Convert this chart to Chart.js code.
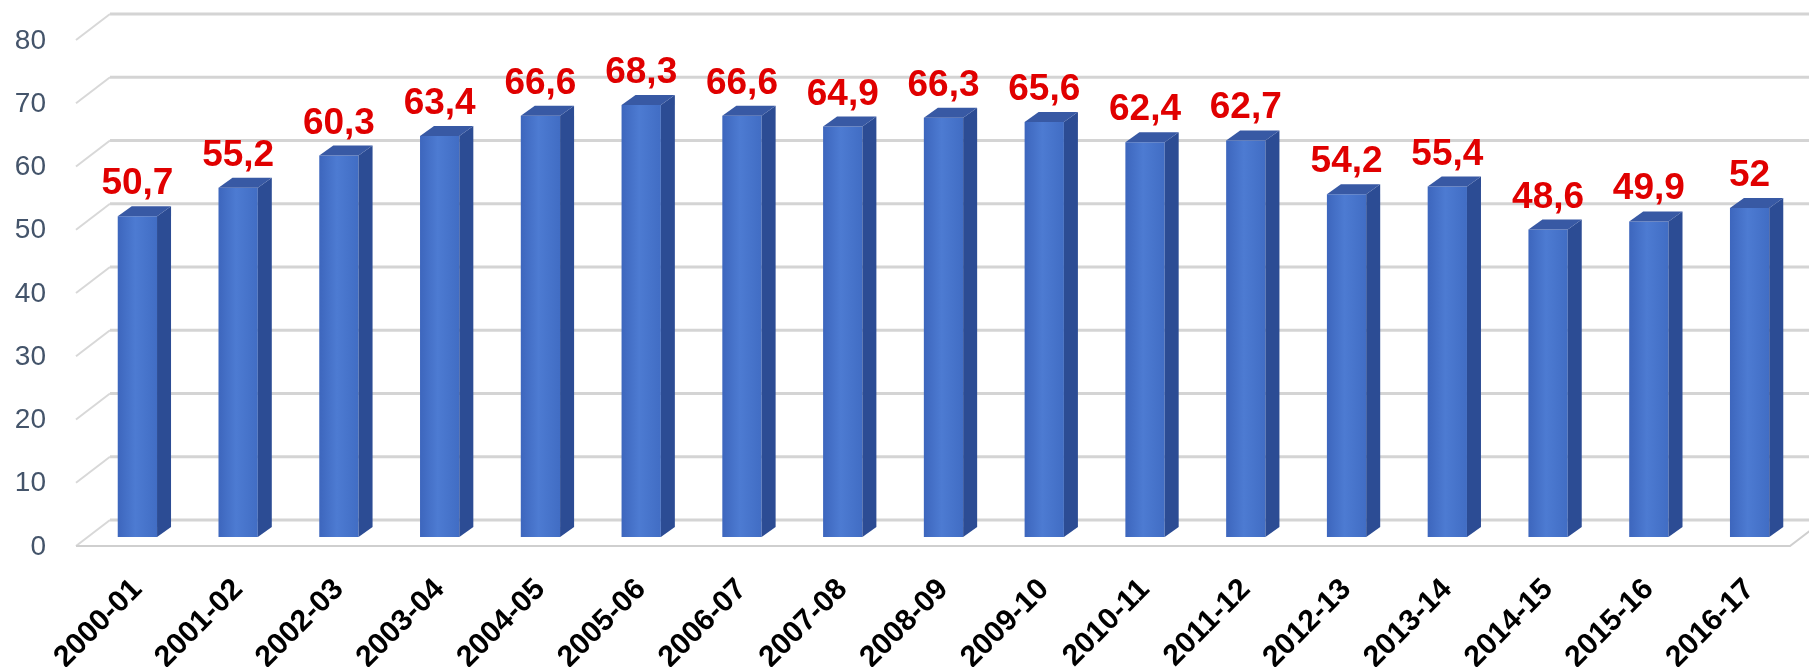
<!DOCTYPE html>
<html>
<head>
<meta charset="utf-8">
<script src="https://cdn.jsdelivr.net/npm/chart.js@4.4.1/dist/chart.umd.min.js"></script>
<style>
  html, body { margin: 0; padding: 0; background: #fff; }
  #wrap { position: relative; width: 1809px; height: 667px; }
</style>
</head>
<body>
<div id="wrap"><canvas id="chart"></canvas></div>
<script>
const seasons = ["2000-01", "2001-02", "2002-03", "2003-04", "2004-05", "2005-06", "2006-07", "2007-08",
  "2008-09", "2009-10", "2010-11", "2011-12", "2012-13", "2013-14", "2014-15", "2015-16", "2016-17"];
const values = [50.7, 55.2, 60.3, 63.4, 66.6, 68.3, 66.6, 64.9, 66.3, 65.6, 62.4, 62.7, 54.2, 55.4, 48.6, 49.9, 52];
const yTicks = [0, 10, 20, 30, 40, 50, 60, 70, 80];

// fake 3d depth, in px
const DX = 14, DY = 10;
const BACK_UP = 17, FRONT_DOWN = 9;

function fmt(v) {
  return String(v).replace(".", ",");
}

// front face gradient, built per bar once the scale exists
function frontFill(c) {
  const chart = c.chart;
  if (!chart.chartArea || c.dataIndex === undefined) return "#4a74cc";
  const x = chart.scales.x.getPixelForValue(c.dataIndex);
  const half = chart.scales.x.width / seasons.length * 0.39 / 2;
  const g = chart.ctx.createLinearGradient(x - half, 0, x + half, 0);
  g.addColorStop(0, "#3d66bd");
  g.addColorStop(0.45, "#4d7bd2");
  g.addColorStop(1, "#416dc4");
  return g;
}

const walls = {
  id: "walls",
  beforeDatasetsDraw(chart) {
    const { ctx, chartArea, scales: { y } } = chart;
    const backX = chartArea.left + 23;
    const frontX = chartArea.left - 11;
    ctx.save();
    yTicks.forEach(v => {
      const py = y.getPixelForValue(v);
      ctx.strokeStyle = "#d4d4d4";
      ctx.lineWidth = 3;
      ctx.beginPath();
      ctx.moveTo(backX, py - BACK_UP);
      ctx.lineTo(chart.width, py - BACK_UP);
      ctx.stroke();
      ctx.strokeStyle = "#d8d8d8";
      ctx.lineWidth = 2;
      ctx.beginPath();
      ctx.moveTo(frontX, py + FRONT_DOWN);
      ctx.lineTo(backX, py - BACK_UP);
      ctx.stroke();
    });
    // floor front edge
    const y0 = y.getPixelForValue(0);
    ctx.strokeStyle = "#cfcfcf";
    ctx.lineWidth = 2;
    ctx.beginPath();
    ctx.moveTo(frontX, y0 + FRONT_DOWN);
    ctx.lineTo(chartArea.right - 10, y0 + FRONT_DOWN);
    ctx.lineTo(chartArea.right + 24, y0 - BACK_UP);
    ctx.stroke();
    ctx.restore();
  },
  afterDatasetsDraw(chart) {
    const { ctx } = chart;
    const meta = chart.getDatasetMeta(0);
    ctx.save();
    meta.data.forEach((bar, i) => {
      const l = bar.x - bar.width / 2;
      const r = bar.x + bar.width / 2;
      const top = bar.y;
      const base = bar.base;
      // side
      ctx.fillStyle = "#2c4c94";
      ctx.beginPath();
      ctx.moveTo(r, top);
      ctx.lineTo(r + DX, top - DY);
      ctx.lineTo(r + DX, base - DY);
      ctx.lineTo(r, base);
      ctx.closePath();
      ctx.fill();
      // top
      ctx.fillStyle = "#3859a4";
      ctx.beginPath();
      ctx.moveTo(l, top);
      ctx.lineTo(l + DX, top - DY);
      ctx.lineTo(r + DX, top - DY);
      ctx.lineTo(r, top);
      ctx.closePath();
      ctx.fill();
      // value label
      ctx.fillStyle = "#e00000";
      ctx.font = "bold 37px 'Liberation Sans', Arial, sans-serif";
      ctx.textAlign = "center";
      ctx.textBaseline = "alphabetic";
      ctx.fillText(fmt(values[i]), bar.x, top - DY - 12);
    });
    ctx.restore();
  }
};

new Chart(document.getElementById("chart"), {
  type: "bar",
  data: {
    labels: seasons,
    datasets: [{
      data: values,
      backgroundColor: frontFill,
      borderWidth: 0,
      barPercentage: 0.39,
      categoryPercentage: 1
    }]
  },
  options: {
    responsive: true,
    maintainAspectRatio: false,
    animation: false,
    layout: { padding: { top: 31, right: 9, bottom: 0, left: 0 } },
    plugins: {
      legend: { display: false },
      tooltip: { enabled: false }
    },
    scales: {
      x: {
        grid: { display: false, drawTicks: false },
        border: { display: false },
        ticks: {
          autoSkip: false,
          minRotation: 45,
          maxRotation: 45,
          padding: 35,
          color: "#000",
          font: { family: "'Liberation Sans', Arial, sans-serif", size: 30, weight: "bold" }
        },
        afterFit(scale) {
          scale.height = 130;
          scale.paddingLeft = 0;
          scale.paddingRight = 0;
        }
      },
      y: {
        min: 0,
        max: 80,
        grid: { display: false, drawTicks: false },
        border: { display: false },
        ticks: {
          stepSize: 10,
          padding: 41,
          labelOffset: 10,
          color: "#44546a",
          font: { family: "'Liberation Sans', Arial, sans-serif", size: 28 }
        },
        afterFit(scale) {
          scale.width = 87;
          scale.paddingTop = 0;
          scale.paddingBottom = 0;
        }
      }
    }
  },
  plugins: [walls]
});
</script>
</body>
</html>
